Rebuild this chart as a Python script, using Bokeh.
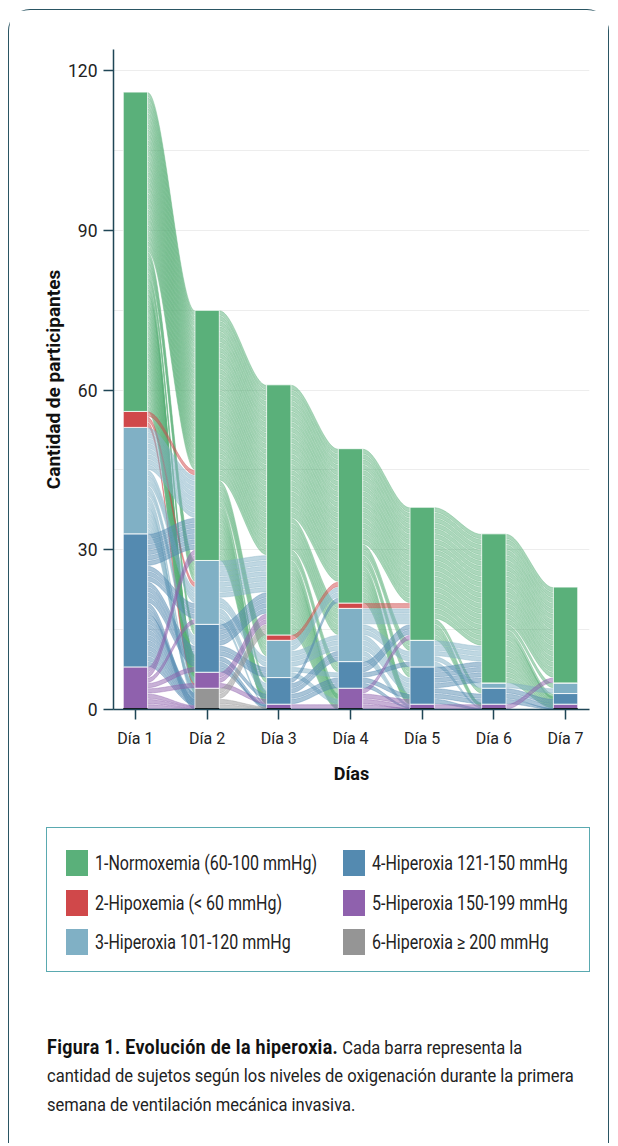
import numpy as np
from bokeh.plotting import figure
from bokeh.models import ColumnDataSource, FixedTicker, Range1d, Div
from bokeh.layouts import column
from bokeh.embed import file_html
from bokeh.resources import INLINE

# ---------------- data ----------------
days = ["Día 1", "Día 2", "Día 3", "Día 4", "Día 5", "Día 6", "Día 7"]
day_x = [1, 2, 3, 4, 5, 6, 7]
categories = ["1-Normoxemia (60-100 mmHg)", "2-Hipoxemia (&lt; 60 mmHg)",
              "3-Hiperoxia 101-120 mmHg", "4-Hiperoxia 121-150 mmHg",
              "5-Hiperoxia 150-199 mmHg", "6-Hiperoxia \u2265 200 mmHg"]
colors = ["#5ab07a", "#d0484a", "#80b0c5", "#548ab0", "#8f61ad", "#959595"]

normoxemia = [60, 47, 47, 29, 25, 28, 18]
hipoxemia = [3, 0, 1, 1, 0, 0, 0]
hiperoxia_101_120 = [20, 12, 7, 10, 5, 1, 2]
hiperoxia_121_150 = [25, 9, 5, 5, 7, 3, 2]
hiperoxia_150_199 = [8, 3, 1, 4, 1, 1, 1]
hiperoxia_200 = [0, 4, 0, 0, 0, 0, 0]

# category codes; X = sin registro al día siguiente
N, H, L, D, P, G, X = 0, 1, 2, 3, 4, 5, 6
# (desde, hacia, participantes)
flows_d1_d2 = [(N, N, 30), (N, L, 4), (N, D, 2), (N, P, 1), (N, G, 1), (N, X, 22),
               (H, N, 1), (H, L, 1), (H, X, 1),
               (L, N, 8), (L, L, 3), (L, D, 2), (L, P, 1), (L, G, 1), (L, X, 5),
               (D, N, 6), (D, L, 3), (D, D, 4), (D, G, 2), (D, X, 10),
               (P, N, 2), (P, L, 1), (P, D, 1), (P, P, 1), (P, X, 3)]
flows_d2_d3 = [(N, N, 32), (N, H, 1), (N, L, 3), (N, D, 1), (N, X, 10),
               (L, N, 7), (L, L, 2), (L, D, 2), (L, X, 1),
               (D, N, 4), (D, L, 2), (D, D, 1), (D, P, 1), (D, X, 1),
               (P, N, 2), (P, D, 1),
               (G, N, 2), (G, X, 2)]
flows_d3_d4 = [(N, N, 25), (N, H, 1), (N, L, 5), (N, D, 2), (N, P, 2), (N, X, 12),
               (H, N, 1),
               (L, N, 2), (L, L, 3), (L, D, 1), (L, P, 1),
               (D, N, 1), (D, L, 2), (D, D, 2),
               (P, P, 1)]
flows_d4_d5 = [(N, N, 18), (N, L, 2), (N, D, 2), (N, X, 7),
               (H, N, 1),
               (L, N, 3), (L, L, 2), (L, D, 3), (L, X, 2),
               (D, N, 2), (D, L, 1), (D, D, 1), (D, X, 1),
               (P, N, 1), (P, D, 1), (P, P, 1), (P, X, 1)]
flows_d5_d6 = [(N, N, 21), (N, D, 1), (N, X, 3),
               (L, N, 3), (L, L, 1), (L, X, 1),
               (D, N, 4), (D, D, 2), (D, X, 1),
               (P, P, 1)]
flows_d6_d7 = [(N, N, 17), (N, L, 1), (N, D, 1), (N, X, 9),
               (L, L, 1),
               (D, D, 1), (D, P, 1), (D, X, 1),
               (P, N, 1)]
transitions = [flows_d1_d2, flows_d2_d3, flows_d3_d4, flows_d4_d5, flows_d5_d6, flows_d6_d7]

counts = [normoxemia, hipoxemia, hiperoxia_101_120, hiperoxia_121_150,
          hiperoxia_150_199, hiperoxia_200]

caption_bold = "Figura 1. Evolución de la hiperoxia."
caption_lines = ["Cada barra representa la",
                 "cantidad de sujetos según los niveles de oxigenación durante la primera",
                 "semana de ventilación mecánica invasiva."]

FONT = "Roboto"
AXIS_COL = "#1f4656"
TEXT_COL = "#222222"

# ---------------- chart ----------------
p = figure(width=599, height=790, x_range=Range1d(0.694, 7.334), y_range=Range1d(0, 124),
           output_backend="svg", toolbar_location=None,
           min_border_left=104, min_border_right=19, min_border_top=39, min_border_bottom=91)
p.outline_line_color = None
p.background_fill_color = "white"
p.border_fill_color = "white"

bw = 0.34
tt = np.linspace(0, 1, 40)
ss = 3 * tt ** 2 - 2 * tt ** 3


def top_of(c, d):
    return sum(counts[j][d] for j in range(c, 6))


xs_all, ys_all, col_all = [], [], []
gap = 0.1
for k, flows in enumerate(transitions):
    src_cur = [top_of(c, k) for c in range(6)]
    tgt_cur = [top_of(c, k + 1) for c in range(6)]
    drop_unit = 0.25
    drop_n = sum(n for f, t_, n in flows if t_ == X)
    tgt_cur.append(drop_unit * drop_n)
    src_pos, tgt_pos = {}, {}
    for f, t_, n in sorted(flows, key=lambda r: (r[0], r[1])):
        src_pos[(f, t_)] = src_cur[f]
        src_cur[f] -= n
    for f, t_, n in sorted(flows, key=lambda r: (r[1], r[0])):
        tgt_pos[(f, t_)] = tgt_cur[t_]
        tgt_cur[t_] -= n * (drop_unit if t_ == X else 1)
    x0 = day_x[k] + bw / 2
    x1 = day_x[k + 1] - bw / 2
    xx = x0 + (x1 - x0) * tt
    for f, t_, n in sorted(flows, key=lambda r: r[0]):
        ys0 = src_pos[(f, t_)]
        yt0 = tgt_pos[(f, t_)]
        u = drop_unit if t_ == X else 1
        for i in range(n):
            a0, b0 = ys0 - i - 1 + gap, ys0 - i - gap
            a1, b1 = yt0 - (i + 1) * u + gap * u, yt0 - i * u - gap * u
            top = b0 + (b1 - b0) * ss
            bot = a0 + (a1 - a0) * ss
            xs_all.append(list(xx) + list(xx[::-1]))
            ys_all.append(list(top) + list(bot[::-1]))
            col_all.append(colors[f])

flow_src = ColumnDataSource(dict(xs=xs_all, ys=ys_all, color=col_all))
p.patches("xs", "ys", source=flow_src, fill_color="color", fill_alpha=0.5,
          line_color="color", line_alpha=0.75, line_width=0.5)

stack_names = ["g", "pu", "db", "lb", "r", "n"]
bar_src = ColumnDataSource(dict(x=day_x, n=normoxemia, r=hipoxemia, lb=hiperoxia_101_120,
                                db=hiperoxia_121_150, pu=hiperoxia_150_199, g=hiperoxia_200))
p.vbar_stack(stack_names, x="x", width=bw, source=bar_src,
             color=[colors[5], colors[4], colors[3], colors[2], colors[1], colors[0]],
             line_color="white", line_width=0.8)
p.segment(x0=[x - bw / 2 for x in day_x], x1=[x + bw / 2 for x in day_x],
          y0=[0] * 7, y1=[0] * 7, line_color="#151515", line_width=3)

p.xaxis.ticker = FixedTicker(ticks=day_x)
p.xaxis.major_label_overrides = {x: lab for x, lab in zip(day_x, days)}
p.yaxis.ticker = FixedTicker(ticks=[0, 30, 60, 90, 120])
p.xgrid.visible = False
p.ygrid.ticker = FixedTicker(ticks=[15, 30, 45, 60, 75, 90, 105, 120])
p.ygrid.grid_line_color = "#e6e6e6"
p.ygrid.grid_line_alpha = 0.7

p.xaxis.axis_label = "Días"
p.yaxis.axis_label = "Cantidad de participantes"
for ax in (p.xaxis, p.yaxis):
    ax.axis_line_color = AXIS_COL
    ax.axis_line_width = 1.5
    ax.major_tick_line_color = AXIS_COL
    ax.major_tick_line_width = 1.5
    ax.major_tick_out = 10
    ax.major_tick_in = 0
    ax.minor_tick_line_color = None
    ax.major_label_text_font = FONT
    ax.major_label_text_color = TEXT_COL
    ax.axis_label_text_font = FONT
    ax.axis_label_text_font_style = "bold"
    ax.axis_label_text_color = "#111111"
p.xaxis.axis_label_text_font_size = "18px"
p.yaxis.axis_label_text_font_size = "19px"
p.xaxis.major_label_text_font_size = "16px"
p.yaxis.major_label_text_font_size = "17.5px"
p.xaxis.major_label_standoff = 9
p.yaxis.major_label_standoff = 6
p.xaxis.axis_label_standoff = 12
p.yaxis.axis_label_standoff = 0

# ---------------- legend and caption (HTML text) ----------------
cond = "transform-origin:0 50%;white-space:nowrap;line-height:1;position:absolute;"
parts = ['<div style="position:relative;width:599px;height:343px;font-family:Roboto;'
         'color:#222;">',
         '<div style="position:absolute;left:37px;top:27px;width:544px;height:145px;'
         'border:1.5px solid #5aa9b0;box-sizing:border-box;"></div>']
row_y = [62.5, 102.5, 141.5]
for i, (lab, colr) in enumerate(zip(categories, colors)):
    sx = 56.5 if i < 3 else 333.5
    sy = row_y[i % 3]
    parts.append(f'<div style="position:absolute;left:{sx}px;top:{sy - 13}px;width:22px;'
                 f'height:26px;background:{colr};"></div>')
    parts.append(f'<div style="{cond}left:{sx + 29}px;top:{sy}px;font-size:20px;'
                 f'transform:translateY(-50%) scaleX(0.8);">{lab}</div>')
cap_y = [246.5, 274.5, 303.5]
parts.append(f'<div style="{cond}left:37.5px;top:{cap_y[0]}px;font-size:19px;'
             f'transform:translateY(-50%) scaleX(0.87);"><b style="color:#111;font-size:20.5px;'
             f'letter-spacing:0.4px;">{caption_bold}</b> {caption_lines[0]}</div>')
for yy, line in zip(cap_y[1:], caption_lines[1:]):
    parts.append(f'<div style="{cond}left:37.5px;top:{yy}px;font-size:19px;'
                 f'transform:translateY(-50%) scaleX(0.87);">{line}</div>')
parts.append('</div>')
lower = Div(text="".join(parts), width=599, height=343, margin=0)

layout = column(p, lower, styles={"border": "1.5px solid #2a5563",
                                  "border-radius": "22px 22px 0 0",
                                  "border-bottom": "none", "background-color": "white",
                                  "margin-left": "8px", "margin-top": "9px"})

open("out.html", "w").write(file_html(layout, INLINE))
